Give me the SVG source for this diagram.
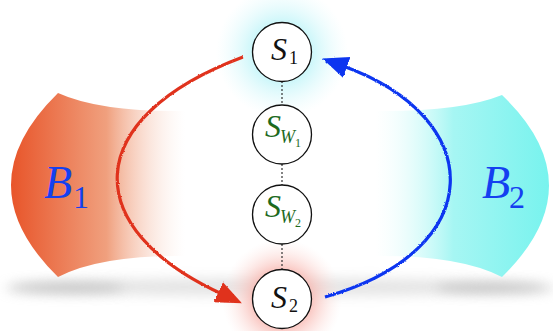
<svg xmlns="http://www.w3.org/2000/svg" width="553" height="331" viewBox="0 0 553 331">
<style>
.node circle{fill:#fff;stroke:#111;stroke-width:1.3}
.s{font-family:"Liberation Serif","DejaVu Serif",serif;font-style:italic;font-size:32px;fill:#111}
.g{fill:#1d6a1d}
.b{font-family:"Liberation Serif","DejaVu Serif",serif;font-style:italic;font-size:46px;fill:#1440f0}
.bn{font-style:normal}
.dot{stroke:#333;stroke-width:1.2;stroke-dasharray:2 2}
.red{fill:none;stroke:#e0321e;stroke-width:3.2}
.blue{fill:none;stroke:#0a36f0;stroke-width:3.2}
</style>
<defs>
<linearGradient id="gB1" x1="0" y1="0" x2="1" y2="0" gradientUnits="objectBoundingBox">
<stop offset="0" stop-color="#e8552a"/>
<stop offset="0.55" stop-color="#f0a07e"/>
<stop offset="1" stop-color="#fbe6de" stop-opacity="0"/>
</linearGradient>
<linearGradient id="gB2" x1="1" y1="0" x2="0" y2="0" gradientUnits="objectBoundingBox">
<stop offset="0" stop-color="#78f3ee"/>
<stop offset="0.55" stop-color="#a6f6f3"/>
<stop offset="1" stop-color="#e8fdfc" stop-opacity="0"/>
</linearGradient>
<radialGradient id="glowC">
<stop offset="0.35" stop-color="#bdf4f8"/>
<stop offset="1" stop-color="#e4fbfd" stop-opacity="0"/>
</radialGradient>
<radialGradient id="glowR">
<stop offset="0.35" stop-color="#f7aaa2"/>
<stop offset="1" stop-color="#fde6e3" stop-opacity="0"/>
</radialGradient>
<filter id="blur" x="-20%" y="-200%" width="140%" height="500%"><feGaussianBlur stdDeviation="6"/></filter>
<filter id="rough" x="-10%" y="-10%" width="120%" height="120%">
<feTurbulence type="fractalNoise" baseFrequency="0.9" numOctaves="2" seed="3"/>
<feDisplacementMap in="SourceGraphic" scale="2.2" xChannelSelector="R" yChannelSelector="G"/>
</filter>
<marker id="ahR" markerUnits="userSpaceOnUse" markerWidth="30" markerHeight="30" refX="4" refY="12" orient="auto">
<path d="M0,1 L26,12 L0,23 Z" fill="#e0321e"/>
</marker>
<marker id="ahB" markerUnits="userSpaceOnUse" markerWidth="30" markerHeight="30" refX="4" refY="12" orient="auto">
<path d="M0,1 L26,12 L0,23 Z" fill="#0a36f0"/>
</marker>
</defs>
<rect width="553" height="331" fill="#fff"/>
<g id="shadow">
<ellipse cx="278" cy="287" rx="265" ry="9" fill="#c4c4c4" opacity="0.45" filter="url(#blur)"/>
<ellipse cx="65" cy="288" rx="60" ry="6" fill="#a8a8a8" opacity="0.5" filter="url(#blur)"/>
<ellipse cx="495" cy="288" rx="60" ry="6" fill="#a8a8a8" opacity="0.5" filter="url(#blur)"/>
</g>
<g id="B1">
<path d="M58,93 Q100,112 185,111 L185,256 Q100,255 58,277 Q-36,185 58,93 Z" fill="url(#gB1)"/>
<text class="b" x="44" y="198">B<tspan class="bn" font-size="32" x="73" y="208">1</tspan></text>
</g>
<g id="B2">
<path d="M502,95 Q460,112 375,111 L375,256 Q460,255 502,277 Q596,185 502,95 Z" fill="url(#gB2)"/>
<text class="b" x="482" y="198">B<tspan class="bn" font-size="32" x="509" y="208">2</tspan></text>
</g>
<g id="glows">
<circle cx="282" cy="52" r="66" fill="url(#glowC)"/>
<circle cx="282" cy="299" r="60" fill="url(#glowR)"/>
</g>
<g id="connectors">
<line class="dot" x1="282" y1="81" x2="282" y2="105"/>
<line class="dot" x1="282" y1="164" x2="282" y2="185"/>
<line class="dot" x1="282" y1="244" x2="282" y2="270"/>
<path class="red" filter="url(#rough)" d="M243,57 C80,118 78,228 222,294" marker-end="url(#ahR)"/>
<path class="blue" filter="url(#rough)" d="M325,297 C490,250 488,118 343,66" marker-end="url(#ahB)"/>
</g>
<g id="S1" class="node">
<circle cx="282" cy="52" r="29.5"/>
<text class="s" x="271" y="60">S<tspan font-style="normal" font-size="18" x="289" y="64">1</tspan></text>
</g>
<g id="SW1" class="node">
<circle cx="282" cy="134.5" r="29.5"/>
<text class="s g" x="265" y="137">S<tspan font-size="18" x="280" y="143">W</tspan><tspan font-style="normal" font-size="12" x="295" y="147">1</tspan></text>
</g>
<g id="SW2" class="node">
<circle cx="282" cy="214.5" r="29.5"/>
<text class="s g" x="265" y="217">S<tspan font-size="18" x="280" y="223">W</tspan><tspan font-style="normal" font-size="12" x="295" y="227">2</tspan></text>
</g>
<g id="S2" class="node">
<circle cx="282" cy="299" r="29.5"/>
<text class="s" x="271" y="308">S<tspan font-style="normal" font-size="18" x="289" y="312">2</tspan></text>
</g>
</svg>
